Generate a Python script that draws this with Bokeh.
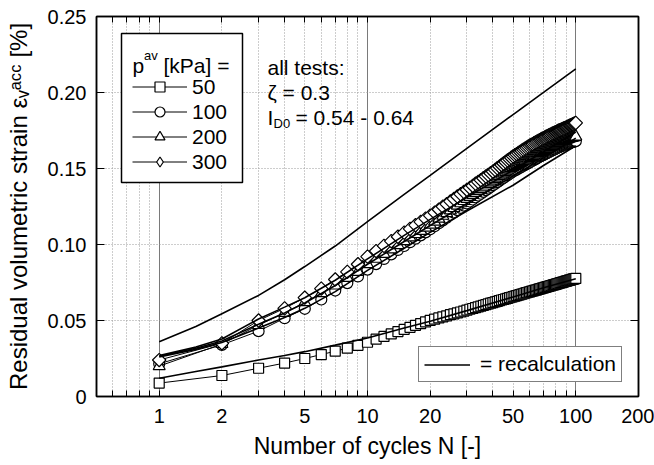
import math
from bokeh.plotting import figure
from bokeh.models import (Range1d, FixedTicker, LinearAxis, LogAxis, CustomJSTickFormatter,
                          Legend, LegendItem, Label, BoxAnnotation)
from bokeh.embed import file_html
from bokeh.resources import INLINE

# ---------------- data ----------------
N = list(range(1, 101))

strain_50 = [0.0088, 0.0138, 0.0186, 0.0220, 0.0250, 0.0276, 0.0298, 0.0318, 0.0337, 0.0357,
             0.0377, 0.0395, 0.0412, 0.0427, 0.0442, 0.0455, 0.0468, 0.0480, 0.0491, 0.0501,
             0.0509, 0.0517, 0.0524, 0.0531, 0.0538, 0.0544, 0.0550, 0.0556, 0.0562, 0.0568,
             0.0574, 0.0579, 0.0585, 0.0590, 0.0595, 0.0600, 0.0604, 0.0609, 0.0614, 0.0618,
             0.0622, 0.0626, 0.0631, 0.0635, 0.0638, 0.0642, 0.0646, 0.0650, 0.0653, 0.0657,
             0.0660, 0.0664, 0.0667, 0.0670, 0.0673, 0.0676, 0.0680, 0.0683, 0.0686, 0.0688,
             0.0691, 0.0694, 0.0697, 0.0700, 0.0702, 0.0705, 0.0708, 0.0710, 0.0713, 0.0715,
             0.0718, 0.0720, 0.0723, 0.0725, 0.0727, 0.0730, 0.0732, 0.0734, 0.0736, 0.0738,
             0.0741, 0.0743, 0.0745, 0.0747, 0.0749, 0.0751, 0.0753, 0.0755, 0.0757, 0.0759,
             0.0761, 0.0763, 0.0765, 0.0766, 0.0768, 0.0770, 0.0772, 0.0774, 0.0775, 0.0777]

strain_100 = [0.0215, 0.0340, 0.0430, 0.0515, 0.0577, 0.0638, 0.0697, 0.0746, 0.0790, 0.0835,
              0.0871, 0.0905, 0.0935, 0.0964, 0.0990, 0.1015, 0.1038, 0.1060, 0.1080, 0.1100,
              0.1120, 0.1140, 0.1159, 0.1176, 0.1194, 0.1210, 0.1226, 0.1241, 0.1256, 0.1270,
              0.1283, 0.1296, 0.1310, 0.1322, 0.1334, 0.1346, 0.1358, 0.1368, 0.1379, 0.1390,
              0.1400, 0.1410, 0.1420, 0.1429, 0.1438, 0.1447, 0.1456, 0.1464, 0.1472, 0.1480,
              0.1487, 0.1493, 0.1500, 0.1506, 0.1512, 0.1518, 0.1524, 0.1529, 0.1535, 0.1540,
              0.1546, 0.1551, 0.1557, 0.1562, 0.1567, 0.1572, 0.1577, 0.1581, 0.1586, 0.1590,
              0.1594, 0.1599, 0.1603, 0.1607, 0.1611, 0.1615, 0.1619, 0.1623, 0.1626, 0.1630,
              0.1633, 0.1637, 0.1640, 0.1643, 0.1646, 0.1649, 0.1652, 0.1655, 0.1657, 0.1660,
              0.1662, 0.1664, 0.1667, 0.1669, 0.1671, 0.1673, 0.1675, 0.1676, 0.1678, 0.1680]

strain_200 = [0.0200, 0.0345, 0.0470, 0.0550, 0.0620, 0.0680, 0.0730, 0.0780, 0.0820, 0.0870,
              0.0906, 0.0938, 0.0968, 0.0996, 0.1022, 0.1046, 0.1069, 0.1090, 0.1111, 0.1130,
              0.1150, 0.1170, 0.1189, 0.1206, 0.1224, 0.1240, 0.1256, 0.1271, 0.1286, 0.1300,
              0.1313, 0.1326, 0.1340, 0.1352, 0.1364, 0.1376, 0.1388, 0.1398, 0.1409, 0.1420,
              0.1430, 0.1440, 0.1450, 0.1459, 0.1468, 0.1477, 0.1486, 0.1494, 0.1502, 0.1510,
              0.1517, 0.1523, 0.1530, 0.1536, 0.1542, 0.1548, 0.1554, 0.1559, 0.1565, 0.1570,
              0.1576, 0.1581, 0.1587, 0.1592, 0.1597, 0.1602, 0.1607, 0.1611, 0.1616, 0.1620,
              0.1624, 0.1629, 0.1633, 0.1637, 0.1641, 0.1645, 0.1649, 0.1653, 0.1656, 0.1660,
              0.1663, 0.1667, 0.1670, 0.1673, 0.1676, 0.1679, 0.1682, 0.1685, 0.1687, 0.1690,
              0.1692, 0.1694, 0.1697, 0.1699, 0.1701, 0.1703, 0.1705, 0.1706, 0.1708, 0.1710]

strain_300 = [0.0240, 0.0350, 0.0500, 0.0580, 0.0650, 0.0710, 0.0770, 0.0820, 0.0870, 0.0920,
              0.0957, 0.0991, 0.1022, 0.1051, 0.1078, 0.1103, 0.1127, 0.1149, 0.1170, 0.1190,
              0.1210, 0.1230, 0.1249, 0.1266, 0.1284, 0.1300, 0.1316, 0.1331, 0.1346, 0.1360,
              0.1373, 0.1386, 0.1400, 0.1412, 0.1424, 0.1436, 0.1448, 0.1458, 0.1469, 0.1480,
              0.1491, 0.1502, 0.1513, 0.1523, 0.1533, 0.1543, 0.1553, 0.1562, 0.1571, 0.1580,
              0.1588, 0.1595, 0.1603, 0.1610, 0.1617, 0.1624, 0.1631, 0.1637, 0.1644, 0.1650,
              0.1656, 0.1661, 0.1667, 0.1672, 0.1677, 0.1682, 0.1687, 0.1691, 0.1696, 0.1700,
              0.1704, 0.1709, 0.1713, 0.1717, 0.1721, 0.1725, 0.1729, 0.1733, 0.1736, 0.1740,
              0.1743, 0.1747, 0.1750, 0.1753, 0.1756, 0.1759, 0.1762, 0.1765, 0.1767, 0.1770,
              0.1773, 0.1777, 0.1780, 0.1783, 0.1786, 0.1789, 0.1792, 0.1795, 0.1797, 0.1800]

# recalculation curves
recalc_N = [1, 1.5, 2, 3, 4, 5, 7, 10, 15, 20, 30, 50, 70, 100]
recalc_top = [0.0360, 0.0460, 0.0545, 0.0665, 0.0768, 0.0855, 0.0990, 0.1150, 0.1330, 0.1455, 0.1633, 0.1855, 0.2001, 0.2156]
recalc_50 = [0.0120, 0.0165, 0.0195, 0.0240, 0.0270, 0.0295, 0.0338, 0.0385, 0.0450, 0.0495, 0.0565, 0.0655, 0.0715, 0.0775]
recalc_100 = [0.0260, 0.0310, 0.0355, 0.0450, 0.0520, 0.0580, 0.0690, 0.0830, 0.0975, 0.1080, 0.1220, 0.1390, 0.1520, 0.1650]
recalc_200 = [0.0265, 0.0318, 0.0365, 0.0475, 0.0550, 0.0615, 0.0730, 0.0870, 0.1020, 0.1125, 0.1270, 0.1450, 0.1570, 0.1700]
recalc_300 = [0.0270, 0.0325, 0.0378, 0.0510, 0.0588, 0.0650, 0.0765, 0.0905, 0.1060, 0.1165, 0.1310, 0.1490, 0.1610, 0.1740]

series_labels = ["50", "100", "200", "300"]

x_label_values = [1, 2, 5, 10, 20, 50, 100, 200]
x_tick_labels = ["1", "2", "5", "10", "20", "50", "100", "200"]
x_unlabeled_ticks = [0.6, 0.7, 0.8, 0.9, 3, 4, 6, 7, 8, 9, 30, 40, 60, 70, 80, 90]
x_all_ticks = [0.6, 0.7, 0.8, 0.9, 1, 2, 3, 4, 5, 6, 7, 8, 9,
               10, 20, 30, 40, 50, 60, 70, 80, 90, 100, 200]
x_major_grid = [1, 10, 100]
x_minor_grid = [0.6, 0.7, 0.8, 0.9, 2, 3, 4, 5, 6, 7, 8, 9,
                20, 30, 40, 50, 60, 70, 80, 90]
y_ticks = [0, 0.05, 0.10, 0.15, 0.20, 0.25]
y_tick_labels = ["0", "0.05", "0.10", "0.15", "0.20", "0.25"]

FONT = "Liberation Sans"

# ---------------- geometry (page pixels) ----------------
W, H = 654, 465
FL, FT, FR, FB = 96, 16, 638, 396     # plot frame edges

p = figure(width=W, height=H, x_axis_type="log",
           x_range=Range1d(0.5, 200), y_range=Range1d(0, 0.25),
           output_backend="svg", toolbar_location=None,
           min_border_left=FL, min_border_right=W - FR,
           min_border_top=FT, min_border_bottom=H - FB)
p.outline_line_color = "black"
p.outline_line_width = 1.5
p.background_fill_color = "white"
p.border_fill_color = "white"

xfmt = CustomJSTickFormatter(args=dict(vals=x_label_values, labs=x_tick_labels), code="""
for (let i = 0; i < vals.length; i++) {
  if (Math.abs(vals[i] - tick) < 1e-6 * vals[i]) return labs[i];
}
return String(tick);
""")
yfmt = CustomJSTickFormatter(args=dict(vals=y_ticks, labs=y_tick_labels), code="""
for (let i = 0; i < vals.length; i++) {
  if (Math.abs(vals[i] - tick) < 1e-9) return labs[i];
}
return String(tick);
""")

def style_axis(ax, tick_len):
    ax.major_tick_in = tick_len
    ax.major_tick_out = 0
    ax.minor_tick_in = tick_len
    ax.minor_tick_out = 0
    ax.axis_line_color = "black"
    ax.axis_line_width = 1.5
    ax.major_tick_line_color = "black"
    ax.minor_tick_line_color = "black"
    ax.major_tick_line_width = 1
    ax.minor_tick_line_width = 1
    ax.major_label_text_font = FONT
    ax.major_label_text_font_size = "20px"
    ax.major_label_text_color = "black"

xa = p.xaxis[0]
xa.ticker = FixedTicker(ticks=x_label_values, minor_ticks=x_unlabeled_ticks)
xa.formatter = xfmt
style_axis(xa, 6)
xa.major_label_standoff = 12
xa.axis_label = "Number of cycles N [-]"
xa.axis_label_text_font = FONT
xa.axis_label_text_font_size = "23px"
xa.axis_label_text_font_style = "normal"
xa.axis_label_text_color = "black"
xa.axis_label_standoff = 7

ya = p.yaxis[0]
ya.ticker = FixedTicker(ticks=y_ticks)
ya.formatter = yfmt
style_axis(ya, 8)
ya.major_label_standoff = 10
ya.axis_label = "Residual volumetric strain \u03b5\u1d65\u1d43\u1d9c\u1d9c [%]"
ya.axis_label_text_font = FONT
ya.axis_label_text_font_size = "24px"
ya.axis_label_text_font_style = "normal"
ya.axis_label_text_color = "black"
ya.axis_label_standoff = 13

# top and right frame ticks (no labels: ticks given as minor ticks only)
top_ax = LogAxis(ticker=FixedTicker(ticks=[], minor_ticks=x_all_ticks))
style_axis(top_ax, 6)
p.add_layout(top_ax, "above")
right_ax = LinearAxis(ticker=FixedTicker(ticks=[], minor_ticks=y_ticks))
style_axis(right_ax, 8)
p.add_layout(right_ax, "right")

p.xgrid.ticker = FixedTicker(ticks=x_major_grid, minor_ticks=x_minor_grid)
p.xgrid.grid_line_color = "#7a7a7a"
p.xgrid.grid_line_width = 1
p.xgrid.minor_grid_line_color = "#9a9a9a"
p.xgrid.minor_grid_line_dash = "1 2"
p.xgrid.minor_grid_line_width = 1
p.ygrid.ticker = FixedTicker(ticks=y_ticks[1:-1])
p.ygrid.grid_line_color = "#9a9a9a"
p.ygrid.grid_line_dash = "1 2"
p.ygrid.grid_line_width = 1

def sx(cx):
    return cx - FL

def sy(cy):
    return FB - cy

# white legend box (covers the grid, sits under the data)
p.add_layout(BoxAnnotation(left=sx(121), right=sx(242), top=sy(33), bottom=sy(182),
                           left_units="screen", right_units="screen",
                           top_units="screen", bottom_units="screen",
                           fill_color="white", fill_alpha=1,
                           line_color="black", line_width=1.5, line_alpha=1,
                           level="underlay", propagate_hover=False))

# ---------------- data glyphs ----------------
series = [(strain_50, "square", 10, 0), (strain_100, "circle", 11, 0),
          (strain_200, "triangle", 12, 0), (strain_300, "square", 9.5, math.pi / 4)]
legend_markers = ["square", "circle", "triangle", "diamond"]
items = []
for lab, (vals, mk, sz, ang), lmk in zip(series_labels, series, legend_markers):
    lr = p.line(N, vals, line_color="black", line_width=1)
    if lmk != mk:
        # zero-size twin whose only visible use is the (unrotated) legend symbol
        kr = p.scatter(N, vals, marker=lmk, size=0, fill_color="white",
                       line_color="black", line_width=1.2)
    sr = p.scatter(N, vals, marker=mk, size=sz, angle=ang, fill_color="white",
                   line_color="black", line_width=1.2)
    items.append(LegendItem(label=lab, renderers=[lr, sr if lmk == mk else kr]))

top_r = p.line(recalc_N, recalc_top, line_color="black", line_width=1.6)
for rv in (recalc_50, recalc_100, recalc_200, recalc_300):
    p.line(recalc_N, rv, line_color="black", line_width=1.6)

# ---------------- legends ----------------
leg1 = Legend(items=items, location=(sx(124), sy(182)), title=" ",
              title_text_font=FONT, title_text_font_size="21px", title_standoff=9,
              label_text_font=FONT, label_text_font_size="21px", label_text_color="black",
              glyph_width=55, glyph_height=25, label_height=25, label_standoff=5,
              spacing=0, padding=8, margin=0,
              border_line_alpha=0, background_fill_alpha=0)
p.add_layout(leg1)

leg2 = Legend(items=[LegendItem(label="= recalculation", renderers=[top_r])],
              location=(sx(418), sy(382)),
              label_text_font=FONT, label_text_font_size="21px", label_text_color="black",
              glyph_width=46, glyph_height=21, label_height=21, label_standoff=10,
              spacing=0, padding=5, margin=0,
              border_line_color="black", border_line_width=1.5,
              background_fill_color="white", background_fill_alpha=1)
p.add_layout(leg2)

def add_text(text, cx, cy, size):
    p.add_layout(Label(x=sx(cx), y=sy(cy), x_units="screen", y_units="screen", text=text,
                       text_font=FONT, text_font_size=size, text_color="black",
                       text_align="left", text_baseline="alphabetic", level="overlay"))

# legend title with superscript
add_text("p", 132, 65, "21px")
add_text("av", 143.5, 55, "13px")
add_text("[kPa] =", 163, 65, "21px")

# test description
add_text("all tests:", 267, 67, "21px")
add_text("\u03b6 = 0.3", 267, 92, "21px")
add_text("I", 267, 117, "21px")
add_text("D0", 273, 123, "13px")
add_text("= 0.54 - 0.64", 295, 117, "21px")

open("out.html", "w").write(file_html(p, INLINE))
